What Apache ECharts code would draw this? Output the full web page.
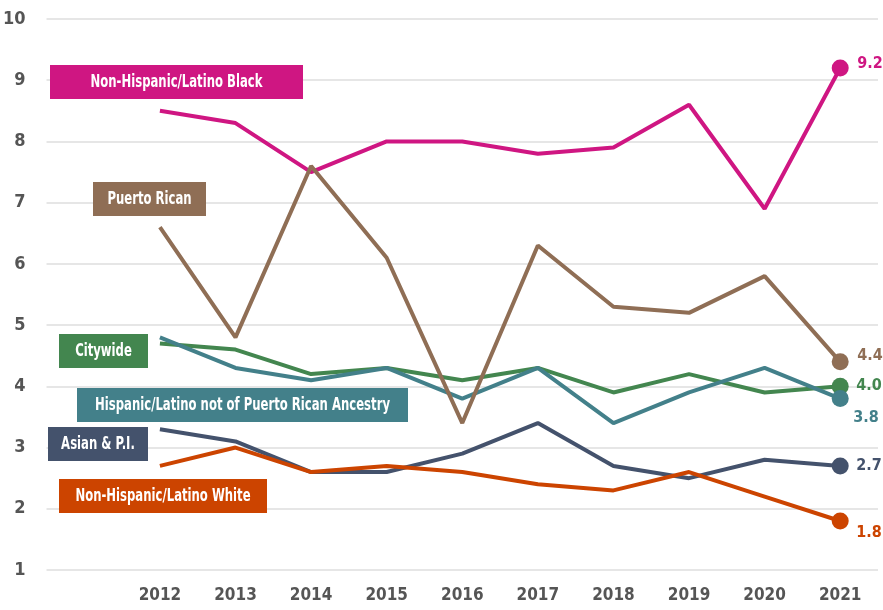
<!DOCTYPE html>
<html>
<head>
<meta charset="utf-8">
<script src="https://cdn.jsdelivr.net/npm/echarts@6/dist/echarts.min.js"></script>
<style>
  html, body { margin: 0; padding: 0; background: #fff; }
  #chart { width: 883px; height: 610px; }
</style>
</head>
<body>
<div id="chart"></div>
<script>
const years = ['2012', '2013', '2014', '2015', '2016', '2017', '2018', '2019', '2020', '2021']
const yTicks = [1, 10, 1] // min, max, interval

const black = [8.5, 8.3, 7.5, 8.0, 8.0, 7.8, 7.9, 8.6, 6.9, 9.2]
const puertoRican = [6.6, 4.8, 7.6, 6.1, 3.4, 6.3, 5.3, 5.2, 5.8, 4.4]
const citywide = [4.7, 4.6, 4.2, 4.3, 4.1, 4.3, 3.9, 4.2, 3.9, 4.0]
const hispanicNotPR = [4.8, 4.3, 4.1, 4.3, 3.8, 4.3, 3.4, 3.9, 4.3, 3.8]
const asian = [3.3, 3.1, 2.6, 2.6, 2.9, 3.4, 2.7, 2.5, 2.8, 2.7]
const white = [2.7, 3.0, 2.6, 2.7, 2.6, 2.4, 2.3, 2.6, 2.2, 1.8]

const FONT = '"Liberation Sans Narrow", "DejaVu Sans Condensed", "Roboto", sans-serif'

// series in draw order (later ones on top)
const seriesDefs = [
  { name: 'Asian & P.I.', data: asian, color: '#44526c', offset: [16, 0],
    box: { x: 48, y: 427, w: 100 } },
  { name: 'Non-Hispanic/Latino White', data: white, color: '#cc4400', offset: [16, 12],
    box: { x: 59, y: 479, w: 208 } },
  { name: 'Citywide', data: citywide, color: '#43864f', offset: [16, 0],
    box: { x: 59, y: 334, w: 89 } },
  { name: 'Hispanic/Latino not of Puerto Rican Ancestry', data: hispanicNotPR, color: '#43808a', offset: [13, 19],
    box: { x: 77, y: 388, w: 331 } },
  { name: 'Non-Hispanic/Latino Black', data: black, color: '#cf1682', offset: [17, -4],
    box: { x: 50, y: 65, w: 253 } },
  { name: 'Puerto Rican', data: puertoRican, color: '#8f6e55', offset: [17, -6],
    box: { x: 93, y: 182, w: 113 } },
]

const chart = echarts.init(document.getElementById('chart'))

const lastIdx = years.length // first category is an empty spacer

const option = {
  animation: false,
  grid: { left: 41, right: 5, top: 19, bottom: 40 },
  xAxis: {
    type: 'category',
    data: [''].concat(years),
    boundaryGap: true,
    axisLine: { show: false },
    axisTick: { show: false },
    axisLabel: {
      color: '#555',
      fontFamily: FONT,
      fontWeight: 'bold',
      fontSize: 17,
      margin: 17,
      interval: 0,
    },
  },
  yAxis: {
    type: 'value',
    min: yTicks[0],
    max: yTicks[1],
    interval: yTicks[2],
    axisLine: { show: false },
    axisTick: { show: false },
    axisLabel: {
      color: '#555',
      fontFamily: FONT,
      fontWeight: 'bold',
      fontSize: 18,
      margin: 21,
    },
    splitLine: { lineStyle: { color: '#e6e6e6', width: 2 } },
  },
  series: seriesDefs.map((s) => ({
    name: s.name,
    type: 'line',
    data: [null].concat(s.data),
    symbol: 'circle',
    symbolSize: (v, p) => (p.dataIndex === lastIdx ? 17 : 0),
    lineStyle: { color: s.color, width: 4 },
    itemStyle: { color: s.color },
    emphasis: { disabled: true },
    endLabel: {
      show: true,
      distance: 0,
      offset: s.offset,
      color: s.color,
      fontFamily: FONT,
      fontWeight: 'bold',
      fontSize: 16,
      formatter: (p) => p.value.toFixed(1),
    },
  })),
  graphic: seriesDefs.flatMap((s) => [
    {
      type: 'rect',
      shape: { x: s.box.x, y: s.box.y, width: s.box.w, height: 34 },
      style: { fill: s.color },
      z: 100,
    },
    {
      type: 'text',
      x: s.box.x + s.box.w / 2,
      y: s.box.y + 17,
      scaleX: 0.72,
      style: {
        text: s.name,
        fill: '#fff',
        font: 'bold 18px ' + FONT,
        align: 'center',
        verticalAlign: 'middle',
      },
      z: 101,
    },
  ]),
}

chart.setOption(option)
</script>
</body>
</html>
